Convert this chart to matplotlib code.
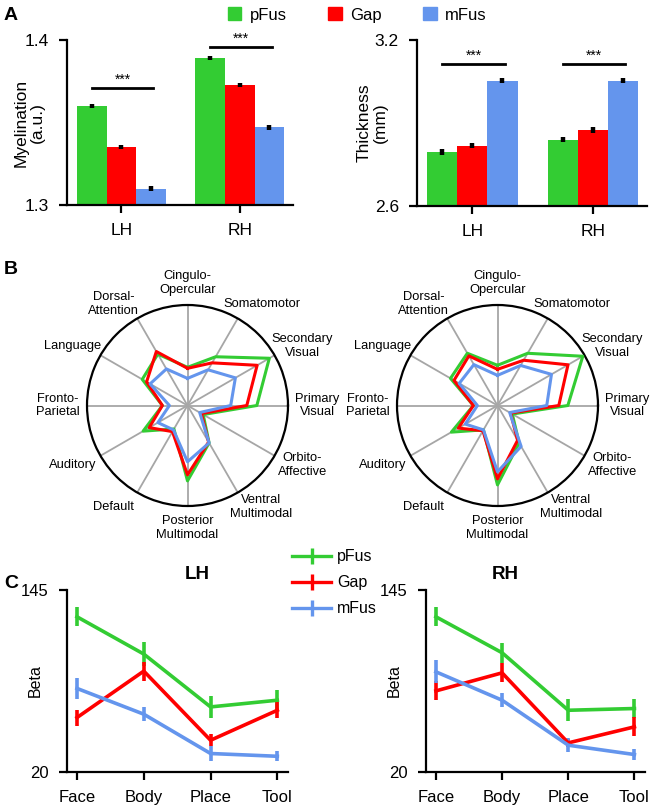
import numpy as np
import matplotlib
matplotlib.use("Agg")
import matplotlib.pyplot as plt
from matplotlib.patches import Patch
from matplotlib.lines import Line2D

plt.rcParams['font.family'] = ['Liberation Sans', 'DejaVu Sans']

# ---------------- data ----------------
regions = ["pFus", "Gap", "mFus"]
colors = ["#33cc33", "#ff0000", "#6495ed"]
hemis = ["LH", "RH"]

# panel A: rows = region, cols = LH, RH
myelin = [[1.360, 1.389], [1.335, 1.373], [1.310, 1.347]]
myelin_err = [[0.0012, 0.0012], [0.0012, 0.0012], [0.0016, 0.0014]]
thick = [[2.796, 2.840], [2.818, 2.875], [3.053, 3.053]]
thick_err = [[0.010, 0.010], [0.010, 0.011], [0.010, 0.010]]

# panel B: networks clockwise from top
networks = ["Cingulo-\nOpercular", "Somatomotor", "Secondary\nVisual", "Primary\nVisual",
            "Orbito-\nAffective", "Ventral\nMultimodal", "Posterior\nMultimodal", "Default",
            "Auditory", "Fronto-\nParietal", "Language", "Dorsal-\nAttention"]
radar_lh = [
    [0.38, 0.56, 0.94, 0.69, 0.18, 0.43, 0.75, 0.27, 0.51, 0.25, 0.52, 0.59],
    [0.37, 0.49, 0.80, 0.59, 0.16, 0.42, 0.69, 0.30, 0.44, 0.25, 0.47, 0.62],
    [0.27, 0.41, 0.55, 0.43, 0.14, 0.43, 0.56, 0.28, 0.34, 0.18, 0.43, 0.42],
]
radar_rh = [
    [0.40, 0.60, 0.98, 0.70, 0.17, 0.43, 0.79, 0.28, 0.53, 0.24, 0.54, 0.60],
    [0.36, 0.52, 0.81, 0.61, 0.15, 0.40, 0.73, 0.29, 0.45, 0.24, 0.50, 0.57],
    [0.30, 0.46, 0.62, 0.49, 0.14, 0.47, 0.66, 0.28, 0.37, 0.20, 0.44, 0.47],
]

# panel C
categories = ["Face", "Body", "Place", "Tool"]
beta_lh = [[126.6, 101.0, 64.7, 69.3], [57.4, 89.3, 41.8, 62.4], [77.4, 59.7, 32.7, 30.8]]
beta_lh_err = [[6.5, 8.0, 7.5, 7.0], [5.5, 6.5, 4.0, 5.5], [7.5, 5.0, 5.0, 3.5]]
beta_rh = [[126.6, 101.9, 62.4, 63.6], [75.7, 88.1, 40.0, 51.0], [88.8, 69.3, 38.4, 32.0]]
beta_rh_err = [[6.5, 7.0, 7.5, 6.5], [6.5, 6.5, 3.0, 6.5], [8.0, 5.0, 5.0, 4.0]]

W, H = 652, 807
fig = plt.figure(figsize=(W / 100, H / 100), dpi=100)


def px_axes(left, top, right, bottom, **kw):
    return fig.add_axes([left / W, 1 - bottom / H, (right - left) / W, (bottom - top) / H], **kw)


def style_axes(ax, fs):
    for s in ["top", "right"]:
        ax.spines[s].set_visible(False)
    for s in ["left", "bottom"]:
        ax.spines[s].set_linewidth(1.6)
    ax.tick_params(width=1.6, length=6, labelsize=fs, direction="out", pad=7)


# ---------------- panel A ----------------
def bar_panel(ax, vals, errs, ylim, ylabel, sig_y):
    x = np.arange(len(hemis))
    w = 0.25
    for i in range(3):
        ax.bar(x + (i - 1) * w, vals[i], w, color=colors[i], bottom=0)
        ax.errorbar(x + (i - 1) * w, vals[i], yerr=errs[i], fmt="none",
                    ecolor="black", elinewidth=3.2, capsize=0)
    ax.set_ylim(ylim)
    ax.set_yticks(ylim)
    ax.set_xticks(x)
    ax.set_xticklabels(hemis)
    ax.set_xlim(-0.46, 1.45)
    ax.set_ylabel(ylabel, fontsize=12.5, linespacing=1.1)
    style_axes(ax, 12.5)
    for j in range(2):
        ax.plot([x[j] - 0.25, x[j] + 0.27], [sig_y[j], sig_y[j]], color="black", lw=2, clip_on=False)
        ax.annotate("***", (x[j] + 0.01, sig_y[j]), xytext=(0, 1), textcoords="offset points",
                    ha="center", va="bottom", fontsize=10)


axA1 = px_axes(67, 40, 293, 205)
bar_panel(axA1, myelin, myelin_err, (1.3, 1.4), "Myelination\n(a.u.)", [1.371, 1.3956])
axA1.yaxis.set_label_coords(-0.1, 0.5)
axA2 = px_axes(417, 40, 647, 206)
bar_panel(axA2, thick, thick_err, (2.6, 3.2), "Thickness\n(mm)", [3.112, 3.112])
axA2.yaxis.set_label_coords(-0.125, 0.5)

fig.legend([Patch(color=c) for c in colors], regions, loc="center left",
           bbox_to_anchor=(213 / W, 1 - 15 / H), ncol=3, frameon=False, fontsize=12,
           handlelength=0.8, handleheight=0.8, handletextpad=0.5, columnspacing=2.5)

# ---------------- panel B ----------------
angles = np.deg2rad(90 - 30 * np.arange(12))


def radar(ax, data):
    ax.set_ylim(0, 1)
    ax.grid(False)
    ax.set_xticks([])
    ax.set_yticks([])
    ax.spines["polar"].set_linewidth(1.6)
    for a in angles:
        ax.plot([a, a], [0, 1], color="#a6a6a6", lw=1.3, zorder=1)
    for i in range(3):
        vals = list(data[i]) + [data[i][0]]
        ax.plot(list(angles) + [angles[0]], vals, color=colors[i], lw=2.2, zorder=3 + i)
    for a, lab in zip(angles, networks):
        shift = np.deg2rad(5 * np.sin(2 * a) - 2 * np.sin(4 * a))
        r = 1.29 - 0.07 * np.sin(a) ** 4
        ax.text(a - shift, r, lab, ha="center", va="center", fontsize=9.3, linespacing=1.15,
                clip_on=False)


axB1 = px_axes(87, 305, 288, 506, projection="polar")
radar(axB1, radar_lh)
axB2 = px_axes(397, 305, 598, 506, projection="polar")
radar(axB2, radar_rh)

# ---------------- panel C ----------------
def line_panel(ax, vals, errs, title, title_x):
    x = np.arange(len(categories))
    for i in range(3):
        ax.errorbar(x, vals[i], yerr=errs[i], color=colors[i], lw=2.6, elinewidth=2.6,
                    capsize=0, clip_on=False)
    ax.set_ylim(20, 145)
    ax.set_yticks([20, 145])
    ax.set_xticks(x)
    ax.set_xticklabels(categories)
    ax.set_xlim(-0.15, 3.16)
    ax.set_ylabel("Beta", fontsize=11.5)
    ax.yaxis.set_label_coords(-0.11, 0.5)
    style_axes(ax, 12)
    ax.text(title_x, 1.085, title, transform=ax.transAxes, fontsize=13.5,
            fontweight="bold", ha="center", va="center")


axC1 = px_axes(67, 590, 288, 772)
line_panel(axC1, beta_lh, beta_lh_err, "LH", 0.588)
axC2 = px_axes(426, 590, 645, 772)
line_panel(axC2, beta_rh, beta_rh_err, "RH", 0.36)

handles = [Line2D([0], [0], color=c, lw=2.4, marker="|", markersize=11, mew=2.4) for c in colors]
fig.legend(handles, regions, loc="upper left", bbox_to_anchor=(278 / W, 1 - 535 / H),
           frameon=False, fontsize=11.5, handlelength=2.4, handletextpad=0.4,
           labelspacing=0.68)

# panel letters
for lab, (x, y) in zip("ABC", [(4, 16), (4, 270), (4, 583)]):
    fig.text(x / W, 1 - y / H, lab, fontsize=14, fontweight="bold", va="center")

fig.savefig("out.png", dpi=100)
